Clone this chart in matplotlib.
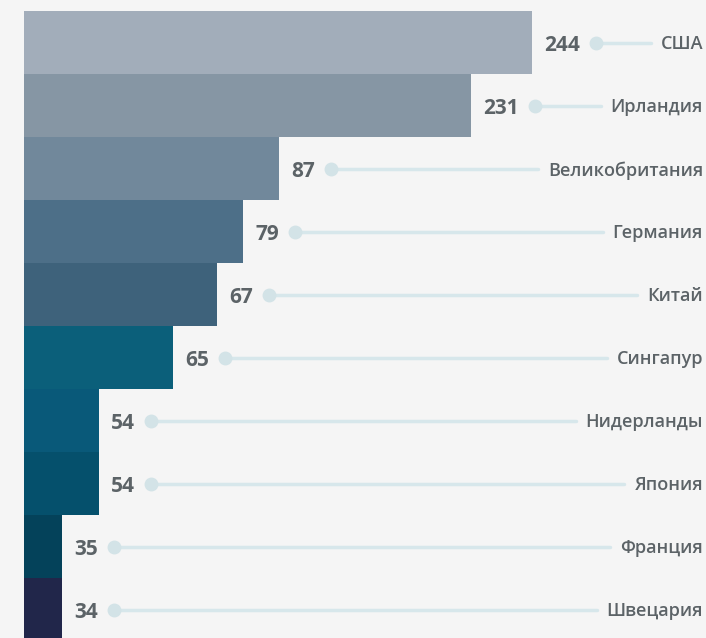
import matplotlib
matplotlib.use("Agg")
import matplotlib.pyplot as plt

# данные
countries = ["США", "Ирландия", "Великобритания", "Германия", "Китай",
             "Сингапур", "Нидерланды", "Япония", "Франция", "Швецария"]
values = [244, 231, 87, 79, 67, 65, 54, 54, 35, 34]
# длина полос, как на картинке (в пикселях)
bar_len = [508, 447, 255, 219, 193, 149, 75, 75, 38, 38]
colors = ["#a2adba", "#8696a4", "#71889b", "#4d6f88", "#3e627b",
          "#0b5f7a", "#095979", "#05506c", "#04425a", "#21264a"]

bg = "#f5f5f5"
txt = "#5c6367"
line_c = "#d7e7eb"

plt.rcParams['font.family'] = ['Open Sans', 'DejaVu Sans']

fig = plt.figure(figsize=(7.06, 6.38), dpi=100, facecolor=bg)
ax = fig.add_axes([0, 0, 1, 1], facecolor=bg)

# 1 единица по x = 1 пиксель, полоса по y = 63 пикселя
ax.set_xlim(-24, 682)
top = -0.5 - 11 / 63
ax.set_ylim(top + 638 / 63, top)
ax.axis('off')

ypos = list(range(len(countries)))
ax.barh(ypos, bar_len, height=1.0, color=colors, left=0)

fig.canvas.draw()
r = fig.canvas.get_renderer()
inv = ax.transData.inverted()

for i, (c, v, w) in enumerate(zip(countries, values, bar_len)):
    t = ax.text(w + 12, i + 0.05, str(v), ha='left', va='center',
                fontsize=15, fontweight='bold', color=txt)
    lab = ax.text(679, i + 0.03, c, ha='right', va='center', fontsize=13,
                  fontweight='semibold', color=txt)
    bb = t.get_window_extent(r)
    lb = lab.get_window_extent(r)
    x_dot = inv.transform((bb.x1 + 16, 0))[0]
    x_end = inv.transform((lb.x0 - 10, 0))[0]
    ax.plot([x_dot, x_end], [i, i], color=line_c, lw=2.5, solid_capstyle='round', zorder=2)
    ax.plot([x_dot], [i], 'o', color="#d3e3e7", ms=9, zorder=3)

fig.savefig("out.png", dpi=100, facecolor=bg)
